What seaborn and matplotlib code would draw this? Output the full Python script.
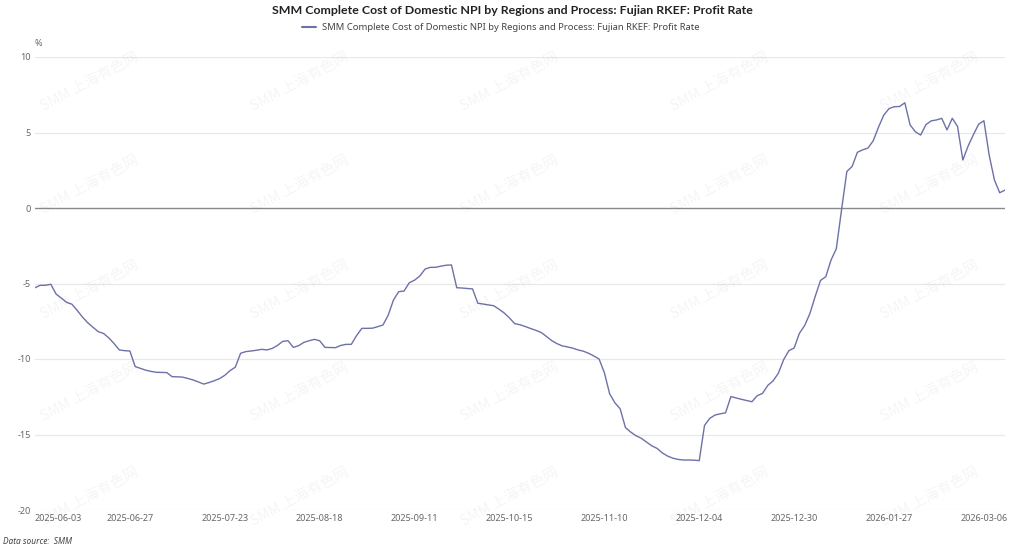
import pandas as pd
import matplotlib
matplotlib.use("Agg")
import matplotlib.pyplot as plt
import seaborn as sns

# Fujian RKEF profit rate (%), one value per trading day, 2025-06-03 .. 2026-03-12
profit_rate = [
    -5.28, -5.12, -5.12, -5.05, -5.70, -5.97, -6.25, -6.37, -6.78, -7.22,
    -7.60, -7.90, -8.19, -8.31, -8.60, -8.98, -9.40, -9.45, -9.47, -10.50,
    -10.62, -10.74, -10.82, -10.88, -10.89, -10.90, -11.17, -11.18, -11.20, -11.29,
    -11.39, -11.52, -11.66, -11.56, -11.44, -11.30, -11.08, -10.77, -10.54, -9.62,
    -9.51, -9.47, -9.42, -9.36, -9.40, -9.30, -9.10, -8.83, -8.79, -9.23,
    -9.12, -8.90, -8.79, -8.70, -8.79, -9.23, -9.24, -9.25, -9.10, -9.03,
    -9.03, -8.45, -7.97, -7.97, -7.96, -7.86, -7.75, -7.10, -6.09, -5.54,
    -5.50, -4.95, -4.78, -4.50, -4.04, -3.93, -3.93, -3.85, -3.79, -3.77,
    -5.28, -5.30, -5.33, -5.36, -6.31, -6.36, -6.42, -6.47, -6.70, -6.95,
    -7.28, -7.66, -7.73, -7.85, -7.98, -8.10, -8.24, -8.50, -8.78, -8.98,
    -9.13, -9.20, -9.28, -9.40, -9.48, -9.62, -9.80, -10.00, -10.90, -12.30,
    -12.90, -13.30, -14.54, -14.84, -15.08, -15.25, -15.50, -15.75, -15.92, -16.22,
    -16.43, -16.57, -16.65, -16.69, -16.69, -16.70, -16.73, -14.40, -13.93, -13.71,
    -13.63, -13.56, -12.49, -12.58, -12.67, -12.75, -12.83, -12.43, -12.28, -11.75,
    -11.45, -10.95, -10.05, -9.45, -9.27, -8.30, -7.78, -6.98, -5.85, -4.80,
    -4.55, -3.45, -2.70, -0.10, 2.42, 2.75, 3.69, 3.85, 3.97, 4.45,
    5.35, 6.15, 6.58, 6.71, 6.72, 6.97, 5.50, 5.05, 4.83, 5.52,
    5.77, 5.83, 5.94, 5.17, 5.94, 5.40, 3.18, 4.10, 4.85, 5.55,
    5.78, 3.50, 1.85, 1.01, 1.19,
]

tick_labels = [
    "2025-06-03", "2025-06-27", "2025-07-23", "2025-08-18", "2025-09-11",
    "2025-10-15", "2025-11-10", "2025-12-04", "2025-12-30", "2026-01-27",
    "2026-03-06",
]
tick_step = 18

y_ticks = [10, 5, 0, -5, -10, -15, -20]

series_name = "SMM Complete Cost of Domestic NPI by Regions and Process: Fujian RKEF: Profit Rate"

df = pd.DataFrame({"day": range(len(profit_rate)), "rate": profit_rate})

sns.set_style("white")
plt.rcParams["font.family"] = ["Noto Sans", "Noto Sans CJK SC", "DejaVu Sans"]

line_color = "#6d71a8"
text_grey = "#666666"

fig = plt.figure(figsize=(10.24, 5.5), dpi=100)
ax = fig.add_axes([35 / 1024, 1 - 510 / 550, 970 / 1024, 453 / 550])

# watermark grid
for wx in [90, 300, 510, 720, 930]:
    for wy in [82, 185, 290, 392, 497]:
        fig.text(wx / 1024, 1 - wy / 550, "SMM 上海有色网", fontsize=10.5,
                 color="#000000", alpha=0.045, rotation=28, ha="center", va="center",
                 family=["Noto Sans CJK SC", "DejaVu Sans"], zorder=0)

for yv in y_ticks:
    if yv != 0:
        ax.axhline(yv, color="#e8e8e8", lw=0.9, zorder=1)
ax.axhline(0, color="#8a8a8a", lw=1.0, zorder=2)

sns.lineplot(data=df, x="day", y="rate", ax=ax, color=line_color, lw=1.0, zorder=3)

ax.set_xlim(0, len(profit_rate) - 1)
ax.set_ylim(-20, 10)
ax.set_yticks(y_ticks)
ax.set_yticklabels([str(v) for v in y_ticks], fontsize=6.5, color=text_grey)
xt = [i * tick_step for i in range(len(tick_labels))]
ax.set_xticks(xt)
ax.set_xticklabels(tick_labels, fontsize=6.5, color=text_grey)
xlabels = ax.get_xticklabels()
xlabels[0].set_ha("left")
ax.tick_params(axis="both", length=0, pad=3)
ax.set_xlabel("")
ax.set_ylabel("")
for s in ax.spines.values():
    s.set_visible(False)

fig.text(38 / 1024, 1 - 43 / 550, "%", fontsize=6.5, color=text_grey, ha="center", va="center")

fig.text(0.5, 1 - 10 / 550, series_name, fontsize=8.9, fontweight="bold",
         color="#222222", ha="center", va="center", family=["Lato", "DejaVu Sans"])
fig.lines.append(plt.Line2D([302 / 1024, 316 / 1024], [1 - 27 / 550, 1 - 27 / 550],
                            transform=fig.transFigure, color=line_color, lw=1.5))
fig.text(322 / 1024, 1 - 27 / 550, series_name, fontsize=6.8, color="#444444",
         ha="left", va="center")

fig.text(3 / 1024, 1 - 541 / 550, "Data source:  SMM", fontsize=6, style="italic",
         color="#444444", ha="left", va="center")

fig.savefig("out.png", dpi=100)
